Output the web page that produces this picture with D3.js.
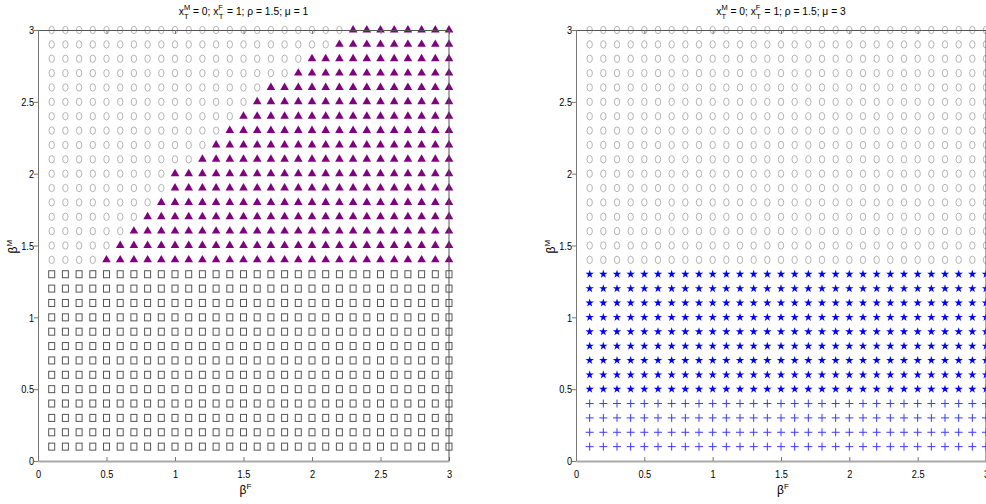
<!DOCTYPE html>
<head>
  <meta charset="UTF-8">
  <title>beta grid</title>
  <style>
  body, html, svg{
    padding: 0;
    margin: 0;
  }
  body{
    background: #fff;
    overflow: hidden;
  }
  text{
    font-family: "Liberation Sans", Arial, sans-serif;
  }
  </style>
</head>
<body>
  <script src="https://cdn.jsdelivr.net/npm/d3@7"></script>
  <script type="text/javascript">
  var width = 986;
  var height = 504;

  // grid values (both axes)
  var betaF = [0.1,0.2,0.3,0.4,0.5,0.6,0.7,0.8,0.9,1.0,1.1,1.2,1.3,1.4,1.5,
               1.6,1.7,1.8,1.9,2.0,2.1,2.2,2.3,2.4,2.5,2.6,2.7,2.8,2.9,3.0];
  var betaM = [0.1,0.2,0.3,0.4,0.5,0.6,0.7,0.8,0.9,1.0,1.1,1.2,1.3,1.4,1.5,
               1.6,1.7,1.8,1.9,2.0,2.1,2.2,2.3,2.4,2.5,2.6,2.7,2.8,2.9,3.0];
  var ticks = [0, 0.5, 1, 1.5, 2, 2.5, 3];
  var tickLabels = ['0', '0.5', '1', '1.5', '2', '2.5', '3'];

  // left panel (mu = 1): squares up to 1.3, above that triangles from a row start
  var leftSquareMax = 1.3;
  var leftTriRows = [1.4,1.5,1.6,1.7,1.8,1.9,2.0,2.1,2.2,2.3,2.4,2.5,2.6,2.7,2.8,2.9,3.0];
  var leftTriStart = [0.5,0.6,0.7,0.8,0.9,1.0,1.0,1.2,1.3,1.4,1.5,1.6,1.7,1.9,2.0,2.2,2.3];

  // right panel (mu = 3): plus up to 0.4, stars up to 1.3, circles above
  var rightPlusMax = 0.4;
  var rightStarMax = 1.3;

  function leftType(f, m){
    if(m <= leftSquareMax + 1e-9) return 'square';
    var i = leftTriRows.findIndex(function(r){ return Math.abs(r - m) < 1e-9; });
    return f >= leftTriStart[i] - 1e-9 ? 'triangle' : 'circle';
  }
  function rightType(f, m){
    if(m <= rightPlusMax + 1e-9) return 'plus';
    if(m <= rightStarMax + 1e-9) return 'star';
    return 'circle';
  }

  // squeeze text horizontally, the original font is a narrow one
  function narrow(sel, k){
    sel.each(function(){
      var w = this.getComputedTextLength();
      if(w > 0){
        d3.select(this)
          .attr('textLength', w * k)
          .attr('lengthAdjust', 'spacingAndGlyphs');
      }
    });
  }

  var svg = d3.select('body')
    .append('svg')
    .attr('width', width)
    .attr('height', height);

  var panels = [
    {x0: 38, x1: 449, mu: '1', type: leftType},
    {x0: 576, x1: 986, mu: '3', type: rightType}
  ];
  var yTop = 30, yBot = 461;

  panels.forEach(function(p){
    var x = d3.scaleLinear().domain([0, 3]).range([p.x0, p.x1]);
    var y = d3.scaleLinear().domain([0, 3]).range([yBot, yTop]);
    var g = svg.append('g');

    var cells = [];
    betaM.forEach(function(m){
      betaF.forEach(function(f){
        cells.push({f: f, m: m, t: p.type(f, m)});
      });
    });

    var mk = g.append('g').selectAll('g')
      .data(cells)
      .enter()
      .append('g')
      .attr('transform', function(d){ return 'translate(' + x(d.f) + ',' + y(d.m) + ')'; });

    mk.filter(function(d){ return d.t === 'circle'; })
      .append('ellipse')
      .attr('rx', 2.7).attr('ry', 3.7)
      .attr('fill', 'none').attr('stroke', '#aaa').attr('stroke-width', 0.9);

    mk.filter(function(d){ return d.t === 'square'; })
      .append('rect')
      .attr('x', -3).attr('y', -3.5).attr('width', 6).attr('height', 7)
      .attr('fill', 'none').attr('stroke', '#555').attr('stroke-width', 1);

    mk.filter(function(d){ return d.t === 'triangle'; })
      .append('path')
      .attr('d', d3.symbol(d3.symbolTriangle, 32))
      .attr('fill', '#800080');

    mk.filter(function(d){ return d.t === 'star'; })
      .append('path')
      .attr('d', d3.symbol(d3.symbolStar, 22))
      .attr('fill', '#0000ff');

    mk.filter(function(d){ return d.t === 'plus'; })
      .append('path')
      .attr('d', 'M-4,0H4M0,-4V4')
      .attr('fill', 'none').attr('stroke', '#3a3aff').attr('stroke-width', 1);

    // axes
    var yAxis = g.append('g')
      .attr('transform', 'translate(' + p.x0 + ',0)')
      .call(d3.axisLeft(y).tickValues(ticks).tickSize(4).tickSizeOuter(0).tickPadding(0)
        .tickFormat(function(d, i){ return tickLabels[i]; }));
    yAxis.select('.domain').attr('stroke', '#777');
    yAxis.selectAll('.tick line').attr('stroke', '#777');

    var xAxis = g.append('g')
      .attr('transform', 'translate(0,' + yBot + ')')
      .call(d3.axisBottom(x).tickValues(ticks).tickSize(-4).tickSizeOuter(0)
        .tickFormat(function(d, i){ return tickLabels[i]; }));
    xAxis.select('.domain').attr('stroke', '#aaa').attr('stroke-width', 2);
    xAxis.selectAll('.tick line').attr('stroke', '#777');
    xAxis.selectAll('.tick text').attr('dy', '1.2em');

    var topAxis = g.append('g')
      .attr('transform', 'translate(0,' + yTop + ')')
      .call(d3.axisTop(x).tickValues(ticks).tickSize(-4).tickSizeOuter(0).tickFormat(''));
    topAxis.select('.domain').attr('stroke', '#555');
    topAxis.selectAll('.tick line').attr('stroke', '#777');

    g.append('line')
      .attr('x1', p.x1).attr('x2', p.x1).attr('y1', yTop).attr('y2', yBot)
      .attr('stroke', '#555');

    g.selectAll('.tick text')
      .attr('font-size', 11.5)
      .attr('font-family', '"Liberation Sans", Arial, sans-serif')
      .attr('fill', '#000');
    narrow(g.selectAll('.tick text'), 0.8);

    // title
    var cx = (p.x0 + p.x1) / 2;
    var t = g.append('text')
      .attr('x', cx).attr('y', 15)
      .attr('text-anchor', 'middle')
      .attr('font-size', 11);
    t.append('tspan').text('x');
    t.append('tspan').attr('font-size', 8).attr('dy', -5).text('M');
    t.append('tspan').attr('font-size', 8).attr('dx', -6.5).attr('dy', 9).text('T');
    t.append('tspan').attr('dx', 1.5).attr('dy', -4).text(' = 0; x');
    t.append('tspan').attr('font-size', 8).attr('dy', -5).text('F');
    t.append('tspan').attr('font-size', 8).attr('dx', -4.5).attr('dy', 9).text('T');
    t.append('tspan').attr('dx', 1).attr('dy', -4).text(' = 1; \u03c1 = 1.5; \u03bc = ' + p.mu);
    narrow(t, 0.88);

    // x label
    var xl = g.append('text')
      .attr('x', cx - 4).attr('y', 494)
      .attr('font-size', 12);
    xl.append('tspan').text('\u03b2');
    xl.append('tspan').attr('font-size', 8).attr('dy', -5).text('F');

    // y label
    var yl = g.append('text')
      .attr('transform', 'translate(' + (p.x0 - 21) + ',' + ((yTop + yBot) / 2 + 8) + ') rotate(-90)')
      .attr('font-size', 12);
    yl.append('tspan').text('\u03b2');
    yl.append('tspan').attr('font-size', 8).attr('dy', -5).text('M');
  });
  </script>
</body>
</html>
